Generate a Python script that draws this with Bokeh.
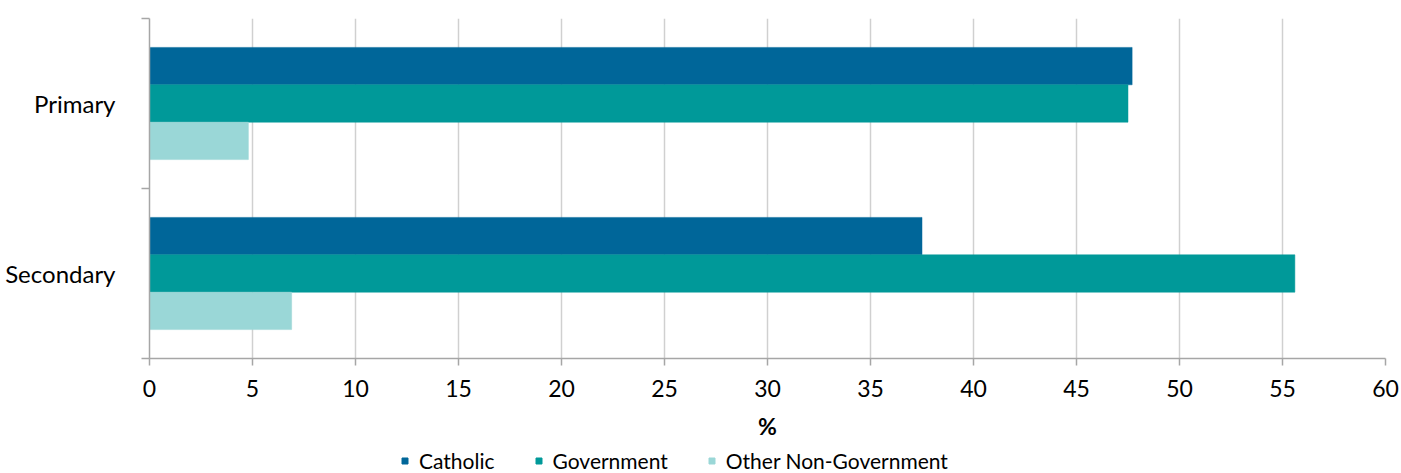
from bokeh.plotting import figure
from bokeh.layouts import column
from bokeh.models import Range1d, FixedTicker, Legend, LegendItem, ColumnDataSource
from bokeh.embed import file_html
from bokeh.resources import INLINE

categories = ["Primary", "Secondary"]
series = ["Catholic", "Government", "Other Non-Government"]
catholic = [47.7, 37.5]
government = [47.5, 55.6]
other = [4.8, 6.9]
colors = ["#006699", "#009999", "#9AD7D7"]
x_ticks = list(range(0, 61, 5))

FONT = "Lato"
FS = "23px"
p = figure(width=1401, height=449, output_backend="svg", toolbar_location=None,
           x_range=Range1d(0, 60), y_range=Range1d(2, 0),
           min_border_left=149, min_border_top=18, min_border_right=16, min_border_bottom=91)
p.outline_line_color = None

bar_h = 0.22
offsets = [-bar_h, 0.0, bar_h]
for vals, name, col, off in zip([catholic, government, other], series, colors, offsets):
    ys = [i + 0.5 + off for i in range(len(categories))]
    src = ColumnDataSource(dict(y=ys, right=vals))
    p.hbar(y="y", left=0, right="right", height=bar_h, source=src,
           fill_color=col, line_color=col, line_width=0.5)

# x axis
p.xaxis.ticker = FixedTicker(ticks=x_ticks)
p.xaxis.axis_line_color = "#A6A6A6"
p.xaxis.axis_line_width = 1.5
p.xaxis.major_tick_line_color = "#A6A6A6"
p.xaxis.major_tick_line_width = 1.5
p.xaxis.major_tick_out = 7
p.xaxis.major_tick_in = 0
p.xaxis.minor_tick_line_color = None
p.xaxis.major_label_standoff = 14
p.xaxis.major_label_text_font = FONT
p.xaxis.major_label_text_font_size = FS
p.xaxis.major_label_text_color = "#000000"
p.xaxis.axis_label = "%"
p.xaxis.axis_label_text_font = FONT
p.xaxis.axis_label_text_font_size = FS
p.xaxis.axis_label_text_font_style = "bold"
p.xaxis.axis_label_text_color = "#000000"
p.xaxis.axis_label_standoff = 12

# y axis
p.yaxis.ticker = FixedTicker(ticks=[0.5, 1.5], minor_ticks=[0, 1, 2])
p.yaxis.major_label_overrides = {0.5: categories[0], 1.5: categories[1]}
p.yaxis.axis_line_color = "#A6A6A6"
p.yaxis.axis_line_width = 1.5
p.yaxis.major_tick_line_color = None
p.yaxis.major_tick_out = 0
p.yaxis.major_tick_in = 0
p.yaxis.minor_tick_line_color = "#A6A6A6"
p.yaxis.minor_tick_line_width = 1.5
p.yaxis.minor_tick_out = 8
p.yaxis.minor_tick_in = 0
p.yaxis.major_label_standoff = 26
p.yaxis.major_label_text_font = FONT
p.yaxis.major_label_text_font_size = "24px"
p.yaxis.major_label_text_color = "#000000"

p.xgrid.ticker = FixedTicker(ticks=x_ticks)
p.xgrid.grid_line_color = "#D0D0D0"
p.xgrid.grid_line_width = 1.5
p.ygrid.grid_line_color = None

# legend strip
p2 = figure(width=1401, height=24, output_backend="svg", toolbar_location=None,
            x_range=Range1d(0, 1), y_range=Range1d(0, 1),
            min_border=0, x_axis_type=None, y_axis_type=None)
p2.outline_line_color = None
p2.grid.visible = False
items = []
for name, col in zip(series, colors):
    r = p2.scatter(x=[float("nan")], y=[float("nan")], marker="square", size=15,
                   fill_color=col, line_color=col)
    items.append(LegendItem(label=name, renderers=[r]))
legend = Legend(items=items, orientation="horizontal", location=(248, 0),
                label_text_font=FONT, label_text_font_size="21px",
                label_text_color="#000000", glyph_width=15, glyph_height=15,
                spacing=36, padding=0, margin=0, label_standoff=7,
                label_height=20,
                border_line_color=None, background_fill_alpha=0)
p2.add_layout(legend, "center")

layout = column(p, p2, spacing=0)
open("out.html", "w").write(file_html(layout, INLINE))
